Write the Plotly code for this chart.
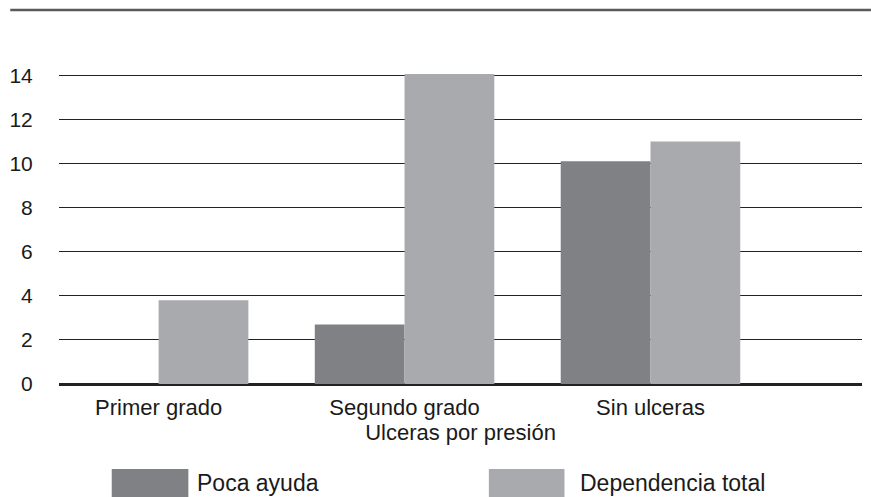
import plotly.graph_objects as go

categories = ["Primer grado", "Segundo grado", "Sin ulceras"]
poca_ayuda = [0, 2.7, 10.1]
dependencia_total = [3.8, 14.05, 11.0]
series_names = ["Poca ayuda", "Dependencia total"]
y_ticks = [0, 2, 4, 6, 8, 10, 12, 14]
x_title = "Ulceras por presión"

DARK = "#808184"
LIGHT = "#a9aaad"
FONT = "Arial, Liberation Sans, Helvetica, sans-serif"
TXT = "#1a1a1a"

W, H = 871, 497
L, R, T, B = 55, 9, 73, 113
PW, PH = W - L - R, H - T - B


def px2x(px):
    return (px - L) / PW


def py2y(py):
    return (H - B - py) / PH


fig = go.Figure()
fig.add_trace(go.Bar(x=categories, y=poca_ayuda, name=series_names[0],
                     marker=dict(color=DARK, line=dict(width=0))))
fig.add_trace(go.Bar(x=categories, y=dependencia_total, name=series_names[1],
                     marker=dict(color=LIGHT, line=dict(width=0))))

shapes = [
    # top rule
    dict(type="line", xref="paper", yref="paper", x0=px2x(6), x1=px2x(871),
         y0=py2y(10), y1=py2y(10), line=dict(color="#5a5a5a", width=2.5)),
    # legend swatches
    dict(type="rect", xref="paper", yref="paper", x0=px2x(108), x1=px2x(185),
         y0=py2y(469), y1=py2y(500), fillcolor=DARK, line=dict(width=0)),
    dict(type="rect", xref="paper", yref="paper", x0=px2x(487), x1=px2x(563),
         y0=py2y(469), y1=py2y(500), fillcolor=LIGHT, line=dict(width=0)),
]
annotations = [
    dict(text=series_names[0], xref="paper", yref="paper", x=px2x(192), y=py2y(483),
         xanchor="left", yanchor="middle", showarrow=False,
         font=dict(family=FONT, size=23, color=TXT)),
    dict(text=series_names[1], xref="paper", yref="paper", x=px2x(577), y=py2y(483),
         xanchor="left", yanchor="middle", showarrow=False,
         font=dict(family=FONT, size=23, color=TXT)),
]

fig.update_layout(
    width=W, height=H,
    margin=dict(l=L, r=R, t=T, b=B, pad=0),
    paper_bgcolor="white", plot_bgcolor="white",
    barmode="group", bargap=0.27, bargroupgap=0,
    showlegend=False,
    font=dict(family=FONT, size=22, color=TXT),
    shapes=shapes, annotations=annotations,
    xaxis=dict(
        type="category", range=[-0.405, 2.86],
        showgrid=False, showline=False, zeroline=False,
        ticks="outside", ticklen=4, tickcolor="rgba(0,0,0,0)",
        tickfont=dict(family=FONT, size=22, color=TXT),
        title=dict(text=x_title, standoff=4,
                   font=dict(family=FONT, size=22, color=TXT)),
    ),
    yaxis=dict(
        range=[0, 14.1], tickvals=y_ticks, ticktext=[str(v) for v in y_ticks],
        showgrid=True, gridcolor="#222222", gridwidth=1,
        zeroline=True, zerolinecolor="#222222", zerolinewidth=2.5,
        showline=False,
        ticks="outside", ticklen=21, tickcolor="rgba(0,0,0,0)",
        tickfont=dict(family=FONT, size=21, color=TXT),
    ),
)

fig.write_html(
    "out.html",
    config={"displayModeBar": False},
    post_script="document.body.style.margin='0';document.body.style.padding='0';",
)
